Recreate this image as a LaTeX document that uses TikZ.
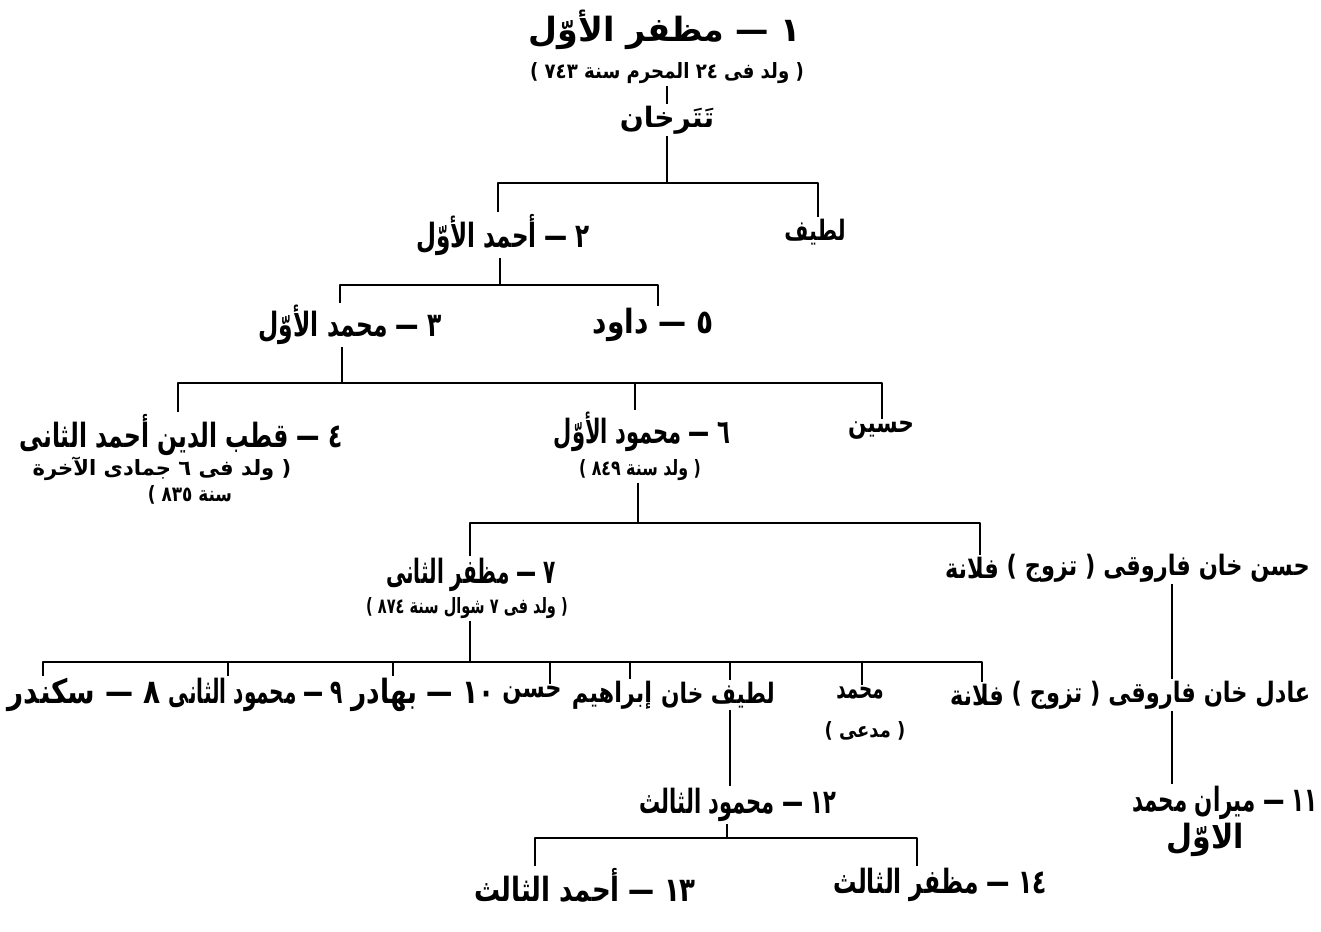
\documentclass[tikz,border=0pt]{standalone}
\usepackage{graphicx}
\usepackage{fontspec}
\newfontfamily\arabicfont[Script=Arabic]{DejaVu Sans}
\TeXXeTstate=1
\usetikzlibrary{positioning}
% arabic text, squeezed sideways to the printed width
\newcommand{\ar}[2][0.75]{\scalebox{#1}[1]{\arabicfont\beginR #2\endR}}
\tikzset{
  big/.style={font=\fontsize{19}{21}\selectfont\bfseries,inner sep=1pt},
  mid/.style={font=\fontsize{16}{18}\selectfont\bfseries,inner sep=1pt},
  small/.style={font=\fontsize{12}{14}\selectfont\bfseries,inner sep=1pt},
  branch/.style={line width=1.1pt}
}

\begin{document}
\begin{tikzpicture}[x=0.02cm,y=-0.02cm,line join=round]
\useasboundingbox (0,0) rectangle (1321,931);
% --- founder, then tatar khan
\node[big] (n1) at (665,30) {\ar[1]{١ — مظفر الأوّل}};
\node[small] (d1) at (667,73) {\ar[0.86]{( ولد فى ٢٤ المحرم سنة ٧٤٣ )}};
\node[mid] (tatar) at (667,120) {\ar[1]{تَتَرخان}};
\draw[branch] (d1) -- (tatar);
% --- sons of tatar khan
\node[big] (n2) at (503,235) {\ar[0.69]{٢ — أحمد الأوّل}};
\node[mid] (latif) at (815,232) {\ar[0.74]{لطيف}};
\coordinate (j1) at (667,183);
\draw[branch] (tatar.south -| j1) -- (j1);
\draw[branch] (n2.north -| 498,0) |- (j1) -| (latif.north -| 818,0);
% --- sons of ahmad I
\node[big] (n3) at (350,325) {\ar[0.7]{٣ — محمد الأوّل}};
\node[big] (n5) at (653,325) {\ar[0.84]{٥ — داود}};
\coordinate (j2) at (500,285);
\draw[branch] (n2.south -| j2) -- (j2);
\draw[branch] (n3.north -| 340,0) |- (j2) -| (n5.north -| 658,0);
% --- sons of muhammad I
\node[big] (n4) at (181,435) {\ar[0.7]{٤ — قطب الدين أحمد الثانى}};
\node[small] (d4a) at (162,469) {\ar[1]{( ولد فى ٦ جمادى الآخرة}};
\node[small] (d4b) at (190,495) {\ar[0.8]{سنة ٨٣٥ )}};
\node[big] (n6) at (642,432) {\ar[0.63]{٦ — محمود الأوّل}};
\node[small] (d6) at (640,470) {\ar{( ولد سنة ٨٤٩ )}};
\node[mid] (husain) at (881,430) {\ar[0.77]{حسين}};
\coordinate (j3) at (342,383);
\draw[branch] (n3.south -| j3) -- (j3);
\draw[branch] (n4.north -| 178,0) |- (j3) -| (husain.north -| 882,0);
\draw[branch] (n6.north -| 635,0) |- (j3);
% --- children of mahmud I
\node[big] (n7) at (471,575) {\ar[0.6]{٧ — مظفر الثانى}};
\node[small] (d7) at (467,608) {\ar[0.69]{( ولد فى ٧ شوال سنة ٨٧٤ )}};
\node[mid] (ful1) at (972,568) {\ar[0.8]{فلانة}};
\node[mid,right=2pt of ful1] (hasan) {\ar[0.8]{حسن خان فاروقى ( تزوج )}};
\coordinate (j4) at (638,523);
\draw[branch] (d6.south -| j4) -- (j4);
\draw[branch] (n7.north -| 470,0) |- (j4) -| (ful1.north -| 980,0);
% --- children of muzaffar II
\node[big] (n8) at (84,695) {\ar[0.84]{٨ — سكندر}};
\node[big] (n9) at (256,695) {\ar[0.6]{٩ — محمود الثانى}};
\node[big] (n10) at (423,695) {\ar[0.79]{١٠ — بهادر}};
\node[mid] (hasan2) at (532,695) {\ar[0.8]{حسن}};
\node[mid] (ibrahim) at (612,695) {\ar[0.8]{إبراهيم}};
\node[mid] (latifkhan) at (718,695) {\ar[0.77]{لطيف خان}};
\node[mid] (muhammad) at (860,693) {\ar[0.65]{محمد}};
\node[small] (mudda) at (865,731) {\ar[0.85]{( مدعى )}};
\node[mid] (ful2) at (977,695) {\ar[0.8]{فلانة}};
\node[mid,right=2pt of ful2] (adil) {\ar[0.8]{عادل خان فاروقى ( تزوج )}};
\coordinate (j5) at (470,662);
\draw[branch] (d7.south -| j5) -- (j5);
\draw[branch] (n8.north -| 43,0) |- (j5) -| (ful2.north -| 982,0);
\draw[branch] (n9.north -| 228,0) |- (j5); \draw[branch] (n10.north -| 393,0) |- (j5);
\draw[branch] (hasan2.north -| 550,0) |- (j5); \draw[branch] (ibrahim.north -| 630,0) |- (j5);
\draw[branch] (latifkhan.north -| 730,0) |- (j5); \draw[branch] (muhammad.north -| 862,0) |- (j5);
% --- faruqi line
\draw[branch] (hasan.south -| 1172,0) -- (adil.north -| 1172,0);
\node[big] (n11) at (1225,803) {\ar[0.64]{١١ — ميران محمد}};
\node[big] (n11b) at (1205,840) {\ar[0.9]{الاوّل}};
\draw[branch] (adil.south -| 1172,0) -- (n11.north -| 1172,0);
% --- mahmud III and his sons
\node[big] (n12) at (738,805) {\ar[0.63]{١٢ — محمود الثالث}};
\draw[branch] (latifkhan.south -| 730,0) -- (n12.north -| 730,0);
\node[big] (n13) at (585,885) {\ar[0.78]{١٣ — أحمد الثالث}};
\node[big] (n14) at (940,885) {\ar[0.7]{١٤ — مظفر الثالث}};
\coordinate (j6) at (727,838);
\draw[branch] (n12.south -| j6) -- (j6);
\draw[branch] (n13.north -| 535,0) |- (j6) -| (n14.north -| 917,0);
\end{tikzpicture}
\end{document}
